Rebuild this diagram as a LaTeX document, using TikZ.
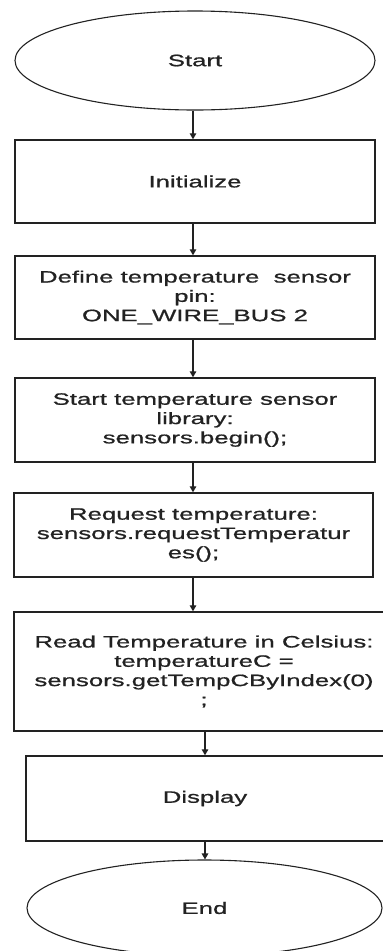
\documentclass[tikz,border=0pt]{standalone}
\usepackage{fontspec}
\setmainfont[FakeStretch=1.56,FakeBold=0.9]{Liberation Sans}
\usetikzlibrary{shapes.geometric,arrows.meta}
\definecolor{ink}{HTML}{222222}
\begin{document}
\begin{tikzpicture}[x=1pt,y=1pt,
  txt/.style={align=center, inner sep=0pt, text=ink, font=\fontsize{16.5}{19.3}\selectfont},
  box/.style={txt, rectangle, draw=ink, line width=1.4pt},
  term/.style={txt, ellipse, draw=ink, line width=1.1pt},
  arr/.style={draw=ink, line width=1.3pt, -{Triangle[length=6pt,width=6.5pt]}}]
\useasboundingbox (0,0) rectangle (383,-951);
\coordinate (axisA) at (193,0);
\coordinate (axisB) at (205,0);

\node[term, minimum width=360pt, minimum height=99pt] (start) at (195,-60.5) {Start};
\node[box, minimum width=360pt, minimum height=83pt] (init) at (195,-181.5) {Initialize};
\node[box, minimum width=360pt, minimum height=83pt] (define) at (195,-297.5)
  {Define temperature\ \ sensor\\pin:\\ONE\_WIRE\_BUS 2};
\node[box, minimum width=360pt, minimum height=84pt] (startlib) at (195,-420)
  {Start temperature sensor\\library:\\sensors.begin();};
\node[box, minimum width=359pt, minimum height=84pt] (request) at (193.5,-535)
  {Request temperature:\\sensors.requestTemperatur\\es();};
\node[box, minimum width=380pt, minimum height=119pt] (read) at (204,-671.5)
  {Read Temperature in Celsius:\\temperatureC =\\sensors.getTempCByIndex(0)\\;};
\node[box, minimum width=358pt, minimum height=85pt] (display) at (205,-798.5) {Display};
\node[term, minimum width=355pt, minimum height=96pt] (end) at (204.5,-908) {End};

\draw[arr] (start.south -| axisA) -- (init.north -| axisA);
\draw[arr] (init.south -| axisA) -- (define.north -| axisA);
\draw[arr] (define.south -| axisA) -- (startlib.north -| axisA);
\draw[arr] (startlib.south -| axisA) -- (request.north -| axisA);
\draw[arr] (request.south -| axisA) -- (read.north -| axisA);
\draw[arr] (read.south -| axisB) -- (display.north -| axisB);
\draw[arr] (display.south -| axisB) -- (end.north -| axisB);
\end{tikzpicture}
\end{document}
